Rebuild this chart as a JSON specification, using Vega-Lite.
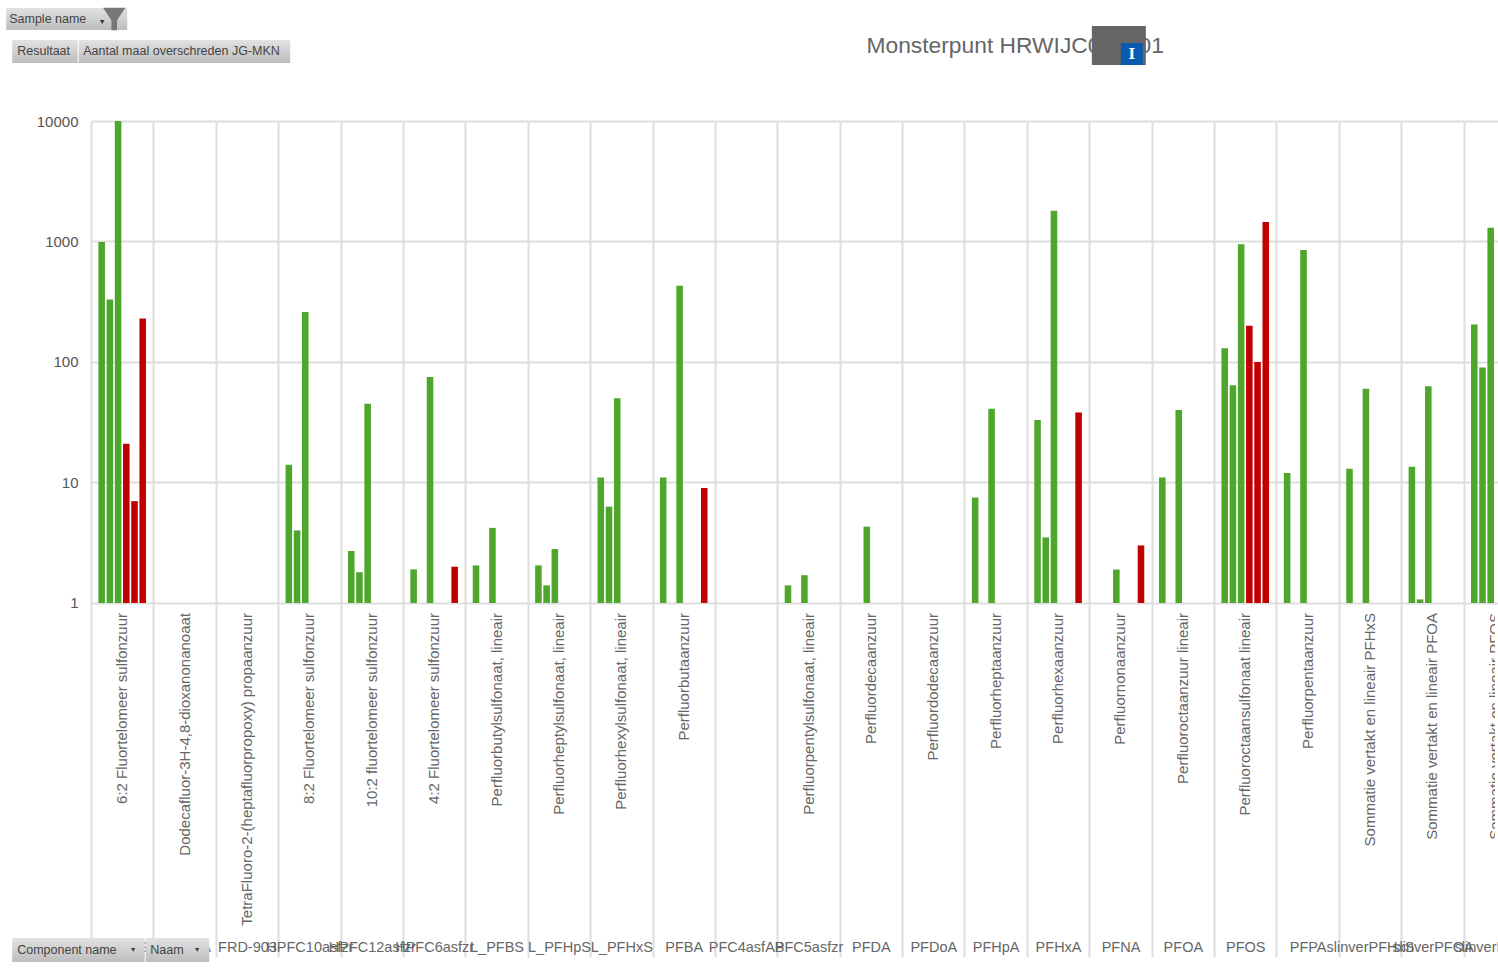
{
"$schema":"https://vega.github.io/schema/vega-lite/v6.json",
"width":1404,"height":836,
"autosize":{"type":"none"},
"padding":{"left":91,"top":121,"right":3,"bottom":12},
"background":"white",
"config":{"view":{"stroke":null},"font":"Liberation Sans"},
"datasets":{
"components":[
{"Naam":"6:2 FTS","Component":"6:2 Fluortelomeer sulfonzuur"},
{"Naam":"ADONA","Component":"Dodecafluor-3H-4,8-dioxanonanoaat"},
{"Naam":"FRD-903","Component":"TetraFluoro-2-(heptafluorpropoxy) propaanzuur"},
{"Naam":"HPFC10asfzr","Component":"8:2 Fluortelomeer sulfonzuur"},
{"Naam":"HPFC12asfzr","Component":"10:2 fluortelomeer sulfonzuur"},
{"Naam":"HPFC6asfzr","Component":"4:2 Fluortelomeer sulfonzuur"},
{"Naam":"L_PFBS","Component":"Perfluorbutylsulfonaat, lineair"},
{"Naam":"L_PFHpS","Component":"Perfluorheptylsulfonaat, lineair"},
{"Naam":"L_PFHxS","Component":"Perfluorhexylsulfonaat, lineair"},
{"Naam":"PFBA","Component":"Perfluorbutaanzuur"},
{"Naam":"PFC5asfzr","Component":"Perfluorpentylsulfonaat, lineair"},
{"Naam":"PFDA","Component":"Perfluordecaanzuur"},
{"Naam":"PFDoA","Component":"Perfluordodecaanzuur"},
{"Naam":"PFHpA","Component":"Perfluorheptaanzuur"},
{"Naam":"PFHxA","Component":"Perfluorhexaanzuur"},
{"Naam":"PFNA","Component":"Perfluornonaanzuur"},
{"Naam":"PFOA","Component":"Perfluoroctaanzuur lineair"},
{"Naam":"PFOS","Component":"Perfluoroctaansulfonaat lineair"},
{"Naam":"PFPA","Component":"Perfluorpentaanzuur"},
{"Naam":"slinverPFHxS","Component":"Sommatie vertakt en lineair PFHxS"},
{"Naam":"slinverPFOA","Component":"Sommatie vertakt en lineair PFOA"},
{"Naam":"slinverPFOS","Component":"Sommatie vertakt en lineair PFOS"}
],
"results":[
{"Naam":"6:2 FTS","Sample":"s1","Resultaat":990,"Status":"ok"},
{"Naam":"6:2 FTS","Sample":"s2","Resultaat":330,"Status":"ok"},
{"Naam":"6:2 FTS","Sample":"s3","Resultaat":10000,"Status":"ok"},
{"Naam":"6:2 FTS","Sample":"s4","Resultaat":21,"Status":"over"},
{"Naam":"6:2 FTS","Sample":"s5","Resultaat":7,"Status":"over"},
{"Naam":"6:2 FTS","Sample":"s6","Resultaat":230,"Status":"over"},
{"Naam":"HPFC10asfzr","Sample":"s1","Resultaat":14,"Status":"ok"},
{"Naam":"HPFC10asfzr","Sample":"s2","Resultaat":4,"Status":"ok"},
{"Naam":"HPFC10asfzr","Sample":"s3","Resultaat":260,"Status":"ok"},
{"Naam":"HPFC12asfzr","Sample":"s1","Resultaat":2.7,"Status":"ok"},
{"Naam":"HPFC12asfzr","Sample":"s2","Resultaat":1.8,"Status":"ok"},
{"Naam":"HPFC12asfzr","Sample":"s3","Resultaat":45,"Status":"ok"},
{"Naam":"HPFC6asfzr","Sample":"s1","Resultaat":1.9,"Status":"ok"},
{"Naam":"HPFC6asfzr","Sample":"s3","Resultaat":75,"Status":"ok"},
{"Naam":"HPFC6asfzr","Sample":"s6","Resultaat":2,"Status":"over"},
{"Naam":"L_PFBS","Sample":"s1","Resultaat":2.05,"Status":"ok"},
{"Naam":"L_PFBS","Sample":"s3","Resultaat":4.2,"Status":"ok"},
{"Naam":"L_PFHpS","Sample":"s1","Resultaat":2.05,"Status":"ok"},
{"Naam":"L_PFHpS","Sample":"s2","Resultaat":1.4,"Status":"ok"},
{"Naam":"L_PFHpS","Sample":"s3","Resultaat":2.8,"Status":"ok"},
{"Naam":"L_PFHxS","Sample":"s1","Resultaat":11,"Status":"ok"},
{"Naam":"L_PFHxS","Sample":"s2","Resultaat":6.3,"Status":"ok"},
{"Naam":"L_PFHxS","Sample":"s3","Resultaat":50,"Status":"ok"},
{"Naam":"PFBA","Sample":"s1","Resultaat":11,"Status":"ok"},
{"Naam":"PFBA","Sample":"s3","Resultaat":430,"Status":"ok"},
{"Naam":"PFBA","Sample":"s6","Resultaat":9,"Status":"over"},
{"Naam":"PFC5asfzr","Sample":"s1","Resultaat":1.4,"Status":"ok"},
{"Naam":"PFC5asfzr","Sample":"s3","Resultaat":1.7,"Status":"ok"},
{"Naam":"PFDA","Sample":"s3","Resultaat":4.3,"Status":"ok"},
{"Naam":"PFHpA","Sample":"s1","Resultaat":7.5,"Status":"ok"},
{"Naam":"PFHpA","Sample":"s3","Resultaat":41,"Status":"ok"},
{"Naam":"PFHxA","Sample":"s1","Resultaat":33,"Status":"ok"},
{"Naam":"PFHxA","Sample":"s2","Resultaat":3.5,"Status":"ok"},
{"Naam":"PFHxA","Sample":"s3","Resultaat":1800,"Status":"ok"},
{"Naam":"PFHxA","Sample":"s6","Resultaat":38,"Status":"over"},
{"Naam":"PFNA","Sample":"s3","Resultaat":1.9,"Status":"ok"},
{"Naam":"PFNA","Sample":"s6","Resultaat":3,"Status":"over"},
{"Naam":"PFOA","Sample":"s1","Resultaat":11,"Status":"ok"},
{"Naam":"PFOA","Sample":"s3","Resultaat":40,"Status":"ok"},
{"Naam":"PFOS","Sample":"s1","Resultaat":130,"Status":"ok"},
{"Naam":"PFOS","Sample":"s2","Resultaat":64,"Status":"ok"},
{"Naam":"PFOS","Sample":"s3","Resultaat":950,"Status":"ok"},
{"Naam":"PFOS","Sample":"s4","Resultaat":200,"Status":"over"},
{"Naam":"PFOS","Sample":"s5","Resultaat":100,"Status":"over"},
{"Naam":"PFOS","Sample":"s6","Resultaat":1450,"Status":"over"},
{"Naam":"PFPA","Sample":"s1","Resultaat":12,"Status":"ok"},
{"Naam":"PFPA","Sample":"s3","Resultaat":850,"Status":"ok"},
{"Naam":"slinverPFHxS","Sample":"s1","Resultaat":13,"Status":"ok"},
{"Naam":"slinverPFHxS","Sample":"s3","Resultaat":60,"Status":"ok"},
{"Naam":"slinverPFOA","Sample":"s1","Resultaat":13.5,"Status":"ok"},
{"Naam":"slinverPFOA","Sample":"s2","Resultaat":1.07,"Status":"ok"},
{"Naam":"slinverPFOA","Sample":"s3","Resultaat":63,"Status":"ok"},
{"Naam":"slinverPFOS","Sample":"s1","Resultaat":205,"Status":"ok"},
{"Naam":"slinverPFOS","Sample":"s2","Resultaat":90,"Status":"ok"},
{"Naam":"slinverPFOS","Sample":"s3","Resultaat":1300,"Status":"ok"}
]
},
"data":{"name":"results"},
"layer":[
{"mark":{"type":"bar","clip":true},
 "encoding":{
  "x":{"field":"Naam","type":"nominal","title":null,
   "scale":{"domain":["6:2 FTS","ADONA","FRD-903","HPFC10asfzr","HPFC12asfzr","HPFC6asfzr","L_PFBS","L_PFHpS","L_PFHxS","PFBA","PFC4asfAB","PFC5asfzr","PFDA","PFDoA","PFHpA","PFHxA","PFNA","PFOA","PFOS","PFPA","slinverPFHxS","slinverPFOA","slinverPFOS"],"range":[0,1435],"paddingInner":0,"paddingOuter":0},
   "axis":{"orient":"bottom","tickBand":"extent","grid":true,"gridColor":"#dedede","gridWidth":2,"ticks":false,"domain":false,"labelAngle":0,"labelAlign":"center","labelBaseline":"top","labelPadding":-17,"labelFontSize":14.5,"labelColor":"#666666","labelOverlap":false,"labelFlush":false,"labelBound":false,"labelLimit":0}},
  "xOffset":{"field":"Sample","type":"nominal","scale":{"domain":["s1","s2","s3","s4","s5","s6"],"paddingInner":0.2,"paddingOuter":0.9}},
  "y":{"field":"Resultaat","type":"quantitative","title":null,
   "scale":{"type":"log","domain":[0.001153,10000],"nice":false,"clamp":false},
   "axis":{"values":[1,10,100,1000,10000],"format":"d","grid":true,"gridColor":"#dedede","gridWidth":2,"ticks":false,"domain":false,"labelFontSize":15,"labelColor":"#555555","labelPadding":13}},
  "y2":{"datum":1},
  "color":{"field":"Status","type":"nominal","legend":null,"scale":{"domain":["ok","over"],"range":["#4ea72c","#c00000"]}}
 }},
{"data":{"name":"components"},
 "mark":{"type":"text","angle":270,"align":"right","baseline":"middle","dx":-10,"fontSize":15,"color":"#666666","clip":true},
 "encoding":{"x":{"field":"Naam","type":"nominal","title":null},"y":{"datum":1},"text":{"field":"Component"}}},
{"data":{"values":[{"label":"Monsterpunt HRWIJC000001"}]},
 "mark":{"type":"text","align":"left","baseline":"middle","dx":58,"fontSize":22.8,"color":"#666666"},
 "encoding":{"x":{"datum":"PFC5asfzr"},"y":{"datum":41900},"text":{"field":"label"}}},
{"data":{"values":[{"label":"redacted"}]},
 "mark":{"type":"rect","color":"#666666","xOffset":-28.6,"x2Offset":25.4},
 "encoding":{"x":{"datum":"PFNA"},"x2":{"datum":"PFNA"},"y":{"datum":61400},"y2":{"datum":29150}}},
{"data":{"values":[{"label":"cursor"}]},
 "mark":{"type":"rect","color":"#0a5bb0","xOffset":0.4,"x2Offset":22.4},
 "encoding":{"x":{"datum":"PFNA"},"x2":{"datum":"PFNA"},"y":{"datum":44400},"y2":{"datum":29150}}},
{"data":{"values":[{"label":"I"}]},
 "mark":{"type":"text","align":"center","baseline":"middle","font":"DejaVu Serif","fontWeight":"bold","fontSize":14,"color":"white","dx":11.4},
 "encoding":{"x":{"datum":"PFNA"},"y":{"datum":35000},"text":{"field":"label"}}},
{"data":{"values":[{"label":"Sample name"}]},
 "mark":{"type":"rect","xOffset":-116,"x2Offset":5,"color":{"gradient":"linear","x1":0,"y1":0,"x2":0,"y2":1,"stops":[{"offset":0,"color":"#e2e2e2"},{"offset":1,"color":"#bdbdbd"}]}},
 "encoding":{"x":{"datum":"6:2 FTS"},"x2":{"datum":"6:2 FTS"},"y":{"datum":86650},"y2":{"datum":56900}}},
{"data":{"values":[{"label":"Resultaat"}]},
 "mark":{"type":"rect","xOffset":-110,"x2Offset":-44.5,"color":{"gradient":"linear","x1":0,"y1":0,"x2":0,"y2":1,"stops":[{"offset":0,"color":"#e2e2e2"},{"offset":1,"color":"#bdbdbd"}]}},
 "encoding":{"x":{"datum":"6:2 FTS"},"x2":{"datum":"6:2 FTS"},"y":{"datum":47000},"y2":{"datum":30300}}},
{"data":{"values":[{"label":"Aantal maal overschreden JG-MKN"}]},
 "mark":{"type":"rect","xOffset":-43.5,"x2Offset":168,"color":{"gradient":"linear","x1":0,"y1":0,"x2":0,"y2":1,"stops":[{"offset":0,"color":"#e2e2e2"},{"offset":1,"color":"#bdbdbd"}]}},
 "encoding":{"x":{"datum":"6:2 FTS"},"x2":{"datum":"6:2 FTS"},"y":{"datum":47000},"y2":{"datum":30300}}},
{"data":{"values":[{"label":"Component name"}]},
 "mark":{"type":"rect","xOffset":-110,"x2Offset":22.5,"color":{"gradient":"linear","x1":0,"y1":0,"x2":0,"y2":1,"stops":[{"offset":0,"color":"#e2e2e2"},{"offset":1,"color":"#bdbdbd"}]}},
 "encoding":{"x":{"datum":"6:2 FTS"},"x2":{"datum":"6:2 FTS"},"y":{"datum":0.00166},"y2":{"datum":0.00105}}},
{"data":{"values":[{"label":"Naam"}]},
 "mark":{"type":"rect","xOffset":23.5,"x2Offset":87,"color":{"gradient":"linear","x1":0,"y1":0,"x2":0,"y2":1,"stops":[{"offset":0,"color":"#e2e2e2"},{"offset":1,"color":"#bdbdbd"}]}},
 "encoding":{"x":{"datum":"6:2 FTS"},"x2":{"datum":"6:2 FTS"},"y":{"datum":0.00166},"y2":{"datum":0.00105}}},
{"data":{"values":[{"label":"Sample name"}]},
 "mark":{"type":"text","align":"left","baseline":"middle","dx":-113,"fontSize":12.5,"color":"#444444"},
 "encoding":{"x":{"datum":"6:2 FTS"},"y":{"datum":70200},"text":{"field":"label"}}},
{"data":{"values":[{"label":"Resultaat"}]},
 "mark":{"type":"text","align":"left","baseline":"middle","dx":-105,"fontSize":12.5,"color":"#444444"},
 "encoding":{"x":{"datum":"6:2 FTS"},"y":{"datum":38100},"text":{"field":"label"}}},
{"data":{"values":[{"label":"Aantal maal overschreden JG-MKN"}]},
 "mark":{"type":"text","align":"left","baseline":"middle","dx":-39,"fontSize":12.5,"color":"#444444"},
 "encoding":{"x":{"datum":"6:2 FTS"},"y":{"datum":38100},"text":{"field":"label"}}},
{"data":{"values":[{"label":"Component name"}]},
 "mark":{"type":"text","align":"left","baseline":"middle","dx":-105,"fontSize":12.5,"color":"#444444"},
 "encoding":{"x":{"datum":"6:2 FTS"},"y":{"datum":0.00132},"text":{"field":"label"}}},
{"data":{"values":[{"label":"Naam"}]},
 "mark":{"type":"text","align":"left","baseline":"middle","dx":28,"fontSize":12.5,"color":"#444444"},
 "encoding":{"x":{"datum":"6:2 FTS"},"y":{"datum":0.00132},"text":{"field":"label"}}},
{"data":{"values":[{"label":"filter"}]},
 "mark":{"type":"point","filled":true,"opacity":1,"shape":"M-1,-1L1,-1L0.25,0.1L0.25,1L-0.25,1L-0.25,0.1Z","size":500,"color":"#777777","xOffset":-8},
 "encoding":{"x":{"datum":"6:2 FTS"},"y":{"datum":70200}}},
{"data":{"values":[{"label":"dropdown"}]},
 "mark":{"type":"point","filled":true,"opacity":1,"shape":"triangle-down","size":20,"color":"#333333","xOffset":-20,"yOffset":3},
 "encoding":{"x":{"datum":"6:2 FTS"},"y":{"datum":70200}}},
{"data":{"values":[{"label":"dropdown"}]},
 "mark":{"type":"point","filled":true,"opacity":1,"shape":"triangle-down","size":20,"color":"#444444","xOffset":11},
 "encoding":{"x":{"datum":"6:2 FTS"},"y":{"datum":0.00132}}},
{"data":{"values":[{"label":"dropdown"}]},
 "mark":{"type":"point","filled":true,"opacity":1,"shape":"triangle-down","size":20,"color":"#444444","xOffset":75},
 "encoding":{"x":{"datum":"6:2 FTS"},"y":{"datum":0.00132}}}
]
}
